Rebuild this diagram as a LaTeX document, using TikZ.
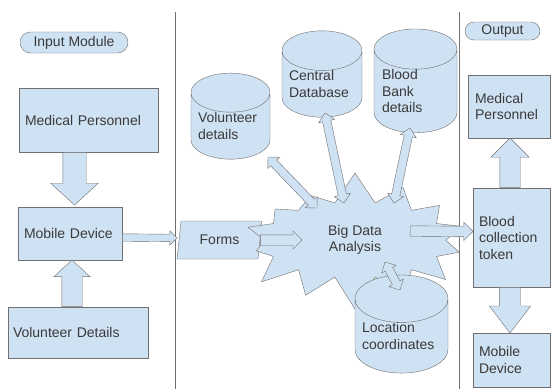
\documentclass[tikz,border=0pt]{standalone}
\usepackage{fontspec}
\setmainfont{Liberation Sans}
\usepackage{tikz}
\usetikzlibrary{calc,shapes.geometric,shapes.symbols,shapes.arrows,shapes.misc}
\definecolor{boxblue}{HTML}{CFE2F3}
\definecolor{edgegray}{HTML}{707070}
\definecolor{textgray}{HTML}{3A3A3A}
\tikzstyle{bluebox}=[rectangle,draw=edgegray,fill=boxblue,text=textgray,
                     font=\fontsize{14}{16.5}\selectfont,align=left,inner sep=0pt]
\tikzstyle{pill}=[rounded rectangle,draw=edgegray,fill=boxblue,text=textgray,
                  font=\fontsize{14}{16.5}\selectfont,inner sep=0pt]
\tikzstyle{dbcyl}=[cylinder,shape border rotate=90,aspect=0.6,draw=edgegray,
                   fill=boxblue,text=textgray,font=\fontsize{14}{16.5}\selectfont,
                   align=left,inner sep=0pt]
\tikzstyle{divider}=[draw=edgegray,line width=0.8pt]
\newcommand\fatarrow[5]{% from, to, half shaft, head extend, tip angle
  \path let \p1=(#1), \p2=(#2), \n1={veclen(\x2-\x1,\y2-\y1)},
    \n2={atan2(\y2-\y1,\x2-\x1)} in
    node[single arrow,draw=edgegray,fill=boxblue,inner sep=#3,
         single arrow head extend=#4,single arrow tip angle=#5,
         minimum height=\n1,rotate=\n2,anchor=tail] at (\p1) {};}
\newcommand\bothways[2]{% from, to
  \path let \p1=(#1), \p2=(#2), \n1={veclen(\x2-\x1,\y2-\y1)},
    \n2={atan2(\y2-\y1,\x2-\x1)} in
    node[double arrow,draw=edgegray,fill=boxblue,inner sep=4pt,
         double arrow head extend=4pt,double arrow tip angle=90,
         minimum height=\n1,rotate=\n2] at ($(\p1)!0.5!(\p2)$) {};}

\begin{document}
\begin{tikzpicture}[x=1pt,y=-1pt]
    \useasboundingbox[fill=white] (0,0) rectangle (552,389);
    \draw[divider] (175,12) -- (175,389);
    \draw[divider] (459,12) -- (459,389);

    % input module
    \node [pill,minimum width=108pt,minimum height=21pt] (inpill) at (74,42.5) {Input Module};
    \node [bluebox,minimum width=139pt,minimum height=64pt,text width=127pt] (medin) at (88.5,120) {Medical Personnel};
    \node [bluebox,minimum width=104pt,minimum height=53pt,text width=92pt] (mobin) at (70,233.5) {Mobile Device};
    \node [bluebox,minimum width=140pt,minimum height=51pt,text width=130pt] (volin) at (78,332.5) {Volunteer Details};

    % analysis
    \node [trapezium,trapezium left angle=78,trapezium right angle=102,trapezium stretches=true,
           draw=edgegray,fill=boxblue,text=textgray,font=\fontsize{14}{16.5}\selectfont,
           minimum width=85pt,minimum height=38pt,inner sep=0pt] (forms) at (219.5,240) {Forms};
    \node [starburst,starburst points=14,starburst point height=32pt,random starburst=7,
           draw=edgegray,fill=boxblue,text=textgray,font=\fontsize{14}{16.5}\selectfont,
           align=center,minimum width=245pt,minimum height=140pt,inner sep=0pt] (big) at (355,240) {Big Data\\Analysis};
    \node [dbcyl,minimum width=79pt,minimum height=86pt,text width=65pt] (voldb) at (230.5,126) {Volunteer\\details};
    \node [dbcyl,minimum width=80pt,minimum height=83pt,text width=66pt] (centdb) at (322,84) {Central\\Database};
    \node [dbcyl,minimum width=83pt,minimum height=86pt,text width=67pt] (bankdb) at (415.5,91) {Blood\\Bank\\details};
    \node [dbcyl,minimum width=93pt,minimum height=86pt,text width=79pt] (locdb) at (401.5,336) {Location\\coordinates};

    % output
    \node [pill,minimum width=75pt,minimum height=18pt] (outpill) at (502.5,31) {Output};
    \node [bluebox,minimum width=82pt,minimum height=63pt,text width=68pt] (medout) at (509,106.5) {Medical\\Personnel};
    \node [bluebox,minimum width=77pt,minimum height=99pt,text width=65pt] (tokout) at (511.5,237.5) {Blood\\collection\\token};
    \node [bluebox,minimum width=77pt,minimum height=54pt,text width=65pt] (mobout) at (511.5,360) {Mobile\\Device};

    % arrows
    \fatarrow{$(medin.south)+(-14,0)$}{$(mobin.north)+(4.5,-2)$}{11.5pt}{12pt}{95}
    \fatarrow{$(volin.north)+(-6,0)$}{$(mobin.south)+(2,0)$}{10pt}{8pt}{95}
    \fatarrow{$(tokout.north)+(-1.5,0)$}{$(medout.south)+(1,0)$}{10pt}{9pt}{90}
    \fatarrow{$(tokout.south)+(-1.5,0)$}{$(mobout.north)+(-1.5,0)$}{10.5pt}{10pt}{75}
    \fatarrow{$(mobin.east)+(0,4)$}{$(forms.west)+(-2,-2)$}{3.5pt}{3.5pt}{90}
    \fatarrow{forms.east}{$(big)+(-53,0)$}{5pt}{4pt}{90}
    \fatarrow{$(big)+(55,-9)$}{$(tokout.west)+(0,-6)$}{5pt}{4pt}{90}
    \bothways{$(voldb)+(37.5,31)$}{$(big)+(-38,-32)$}
    \bothways{$(centdb)+(3,29)$}{$(big)+(-11,-37)$}
    \bothways{$(bankdb)+(-5.5,37)$}{$(big)+(39,-37)$}
    \bothways{$(big)+(30,22)$}{$(locdb)+(-1.5,-46)$}
\end{tikzpicture}
\end{document}
